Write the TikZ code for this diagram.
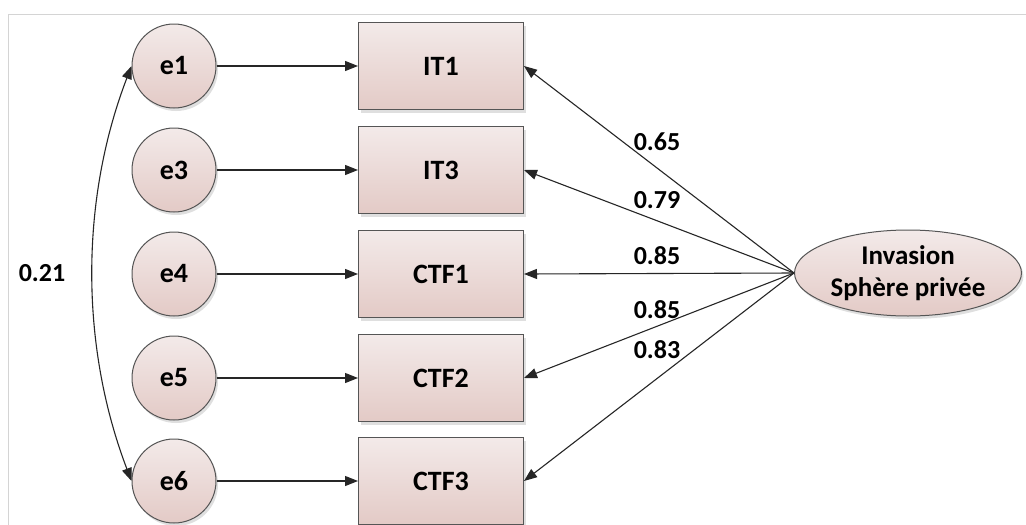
\documentclass[tikz,border=0pt]{standalone}
\usepackage{fontspec}
\setmainfont{Carlito}
\usetikzlibrary{arrows.meta,shapes.geometric,shadows}
\definecolor{topc}{HTML}{F3EAE9}
\definecolor{botc}{HTML}{E3CAC6}
\definecolor{edge}{HTML}{555555}
\definecolor{framec}{HTML}{D4D4D4}
\tikzset{
  base/.style={draw=edge, line width=1pt, top color=topc, bottom color=botc,
    drop shadow={shadow xshift=2pt, shadow yshift=-3pt, opacity=0.25},
    font=\fontsize{28}{32}\selectfont\bfseries, text=black},
  errnode/.style={base, circle, minimum size=84pt, inner sep=0pt},
  obsnode/.style={base, rectangle, minimum width=165pt, minimum height=87pt, inner sep=0pt},
  latnode/.style={base, ellipse, minimum width=227pt, minimum height=86pt, inner sep=0pt, align=center,
    font=\fontsize{27}{33}\selectfont\bfseries},
  conn/.style={draw=black!85, line width=1.1pt, -{Triangle[length=13pt,width=10pt]}},
  coef/.style={font=\fontsize{26}{30}\selectfont\bfseries, inner sep=0pt}
}
\begin{document}
\begin{tikzpicture}[x=1pt,y=-1pt]
\useasboundingbox (0,0) rectangle (1026,525);
\fill[white] (0,0) rectangle (1026,525);
\draw[framec, line width=1pt] (1026,14) -- (8,14) -- (8,525);
% error terms
\node[errnode] (e1) at (174,66) {e1};
\node[errnode] (e3) at (174,170) {e3};
\node[errnode] (e4) at (174,274) {e4};
\node[errnode] (e5) at (174,378) {e5};
\node[errnode] (e6) at (174,481) {e6};
% observed
\node[obsnode] (IT1) at (441,66) {IT1};
\node[obsnode] (IT3) at (441,170) {IT3};
\node[obsnode] (CTF1) at (441,274) {CTF1};
\node[obsnode] (CTF2) at (441,378) {CTF2};
\node[obsnode] (CTF3) at (441,481) {CTF3};
% latent
\node[latnode] (inv) at (908,273) {Invasion\\[-1pt]Sphère privée};
% error arrows
\draw[conn] (e1) -- (IT1);
\draw[conn] (e3) -- (IT3);
\draw[conn] (e4) -- (CTF1);
\draw[conn] (e5) -- (CTF2);
\draw[conn] (e6) -- (CTF3);
% loadings
\draw[conn] (inv.west) -- (IT1.east);
\draw[conn] (inv.west) -- (IT3.east);
\draw[conn] (inv.west) -- (CTF1.east);
\draw[conn] (inv.west) -- (CTF2.east);
\draw[conn] (inv.west) -- (CTF3.east);
\node[coef] (l1) at (657,142) {0.65};
\node[coef] (l2) at (657,200) {0.79};
\node[coef] (l3) at (657,256) {0.85};
\node[coef] (l4) at (657,310) {0.85};
\node[coef] (l5) at (657,350) {0.83};
% covariance
\coordinate (c1) at (80,200);
\coordinate (c2) at (80,346);
\draw[draw=black!85, line width=1.1pt, {Triangle[length=13pt,width=10pt]}-{Triangle[length=13pt,width=10pt]}]
  (e1.west) .. controls (c1) and (c2) .. (e6.west);
\node[coef] (cov) at (42,273) {0.21};
\end{tikzpicture}
\end{document}
